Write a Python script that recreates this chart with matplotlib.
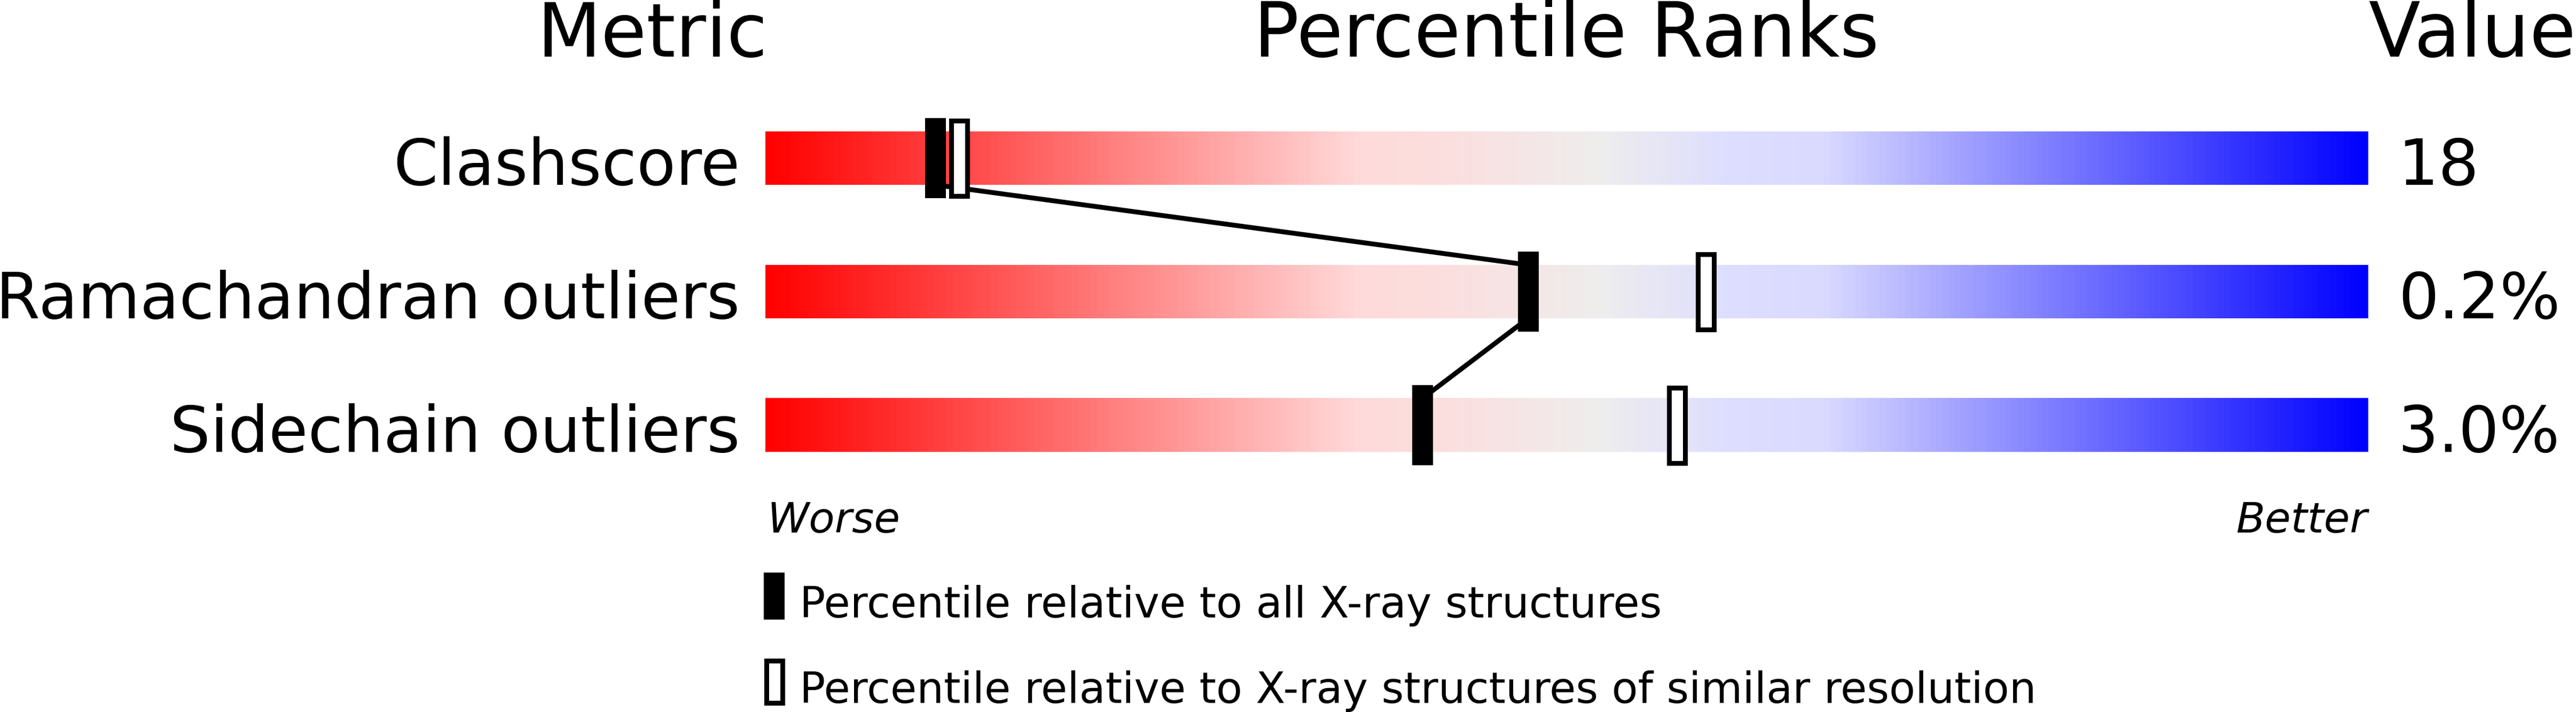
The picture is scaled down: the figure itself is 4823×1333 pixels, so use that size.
import numpy as np
import matplotlib
matplotlib.use("Agg")
import matplotlib.pyplot as plt
from matplotlib.colors import LinearSegmentedColormap
from matplotlib.patches import Rectangle

# --- data ---
metrics = ["Clashscore", "Ramachandran outliers", "Sidechain outliers"]
values = ["18", "0.2%", "3.0%"]
pct_all = [10.6, 47.6, 41.0]       # percentile vs all X-ray structures
pct_similar = [12.1, 58.7, 56.9]   # percentile vs similar resolution
legend_labels = ["Percentile relative to all X-ray structures",
                 "Percentile relative to X-ray structures of similar resolution"]

# red -> pale pink -> grey -> pale blue -> blue
slider_cmap = LinearSegmentedColormap.from_list("slider", [
    (0.00, (1.0, 0.0, 0.0)),
    (0.37, (1.0, 0.855, 0.855)),
    (0.42, (0.99, 0.87, 0.87)),
    (0.52, (0.935, 0.93, 0.93)),
    (0.60, (0.87, 0.87, 1.0)),
    (0.66, (0.855, 0.855, 1.0)),
    (1.00, (0.0, 0.0, 1.0)),
])

W, H, DPI = 4823, 1333, 100
fig = plt.figure(figsize=(W / DPI, H / DPI), dpi=DPI)
ax = fig.add_axes([0, 0, 1, 1])
# x: percentile (0..100 spans the bar), y: row index (downwards)
ax.set_xlim(-1433 / 30, (W - 1433) / 30)
ax.set_ylim((H - 296) / 250, -296 / 250)
ax.axis("off")

bar_h = 0.4
mark_h = 0.6
mark_w = 1.3
grad = np.linspace(0, 1, 512).reshape(1, -1)

for i in range(len(metrics)):
    ax.imshow(grad, cmap=slider_cmap, aspect="auto",
              extent=(0, 100, i + bar_h / 2, i - bar_h / 2), zorder=1)

# connector between the "all structures" markers
for i in range(len(metrics) - 1):
    ax.plot([pct_all[i], pct_all[i + 1]], [i + bar_h / 2, i + 1 - bar_h / 2],
            color="black", lw=6.5, solid_capstyle="butt", zorder=2)

lw_out = 6.5
pad_x = 9 / 30
pad_y = 9 / 250
for i in range(len(metrics)):
    ax.add_patch(Rectangle((pct_all[i] - mark_w / 2, i - mark_h / 2), mark_w, mark_h,
                           facecolor="black", edgecolor="none", zorder=3))
    ax.add_patch(Rectangle((pct_similar[i] - mark_w / 2 + pad_x / 2, i - mark_h / 2 + pad_y / 2),
                           mark_w - pad_x, mark_h - pad_y,
                           facecolor="white", edgecolor="black", lw=lw_out, zorder=3))

    ax.text(-1.6, i + bar_h / 2, metrics[i], ha="right", va="baseline", fontsize=86)
    ax.text(101.9, i + bar_h / 2, values[i], ha="left", va="baseline", fontsize=86)

# headers
ax.text(0.15, -0.76, "Metric", ha="right", va="baseline", fontsize=100)
ax.text(50, -0.76, "Percentile Ranks", ha="center", va="baseline", fontsize=102)
ax.text(100.05, -0.76, "Value", ha="left", va="baseline", fontsize=102)

ax.text(0.1, 2.804, "Worse", ha="left", va="baseline", fontsize=57, style="italic")
ax.text(100, 2.804, "Better", ha="right", va="baseline", fontsize=57, style="italic")

# legend
leg_h = 0.352
ax.add_patch(Rectangle((-0.1, 3.28 - leg_h / 2), 1.3, leg_h,
                       facecolor="black", edgecolor="none"))
ax.add_patch(Rectangle((-0.1 + pad_x / 2, 3.92 - leg_h / 2 + pad_y / 2), 1.3 - pad_x, leg_h - pad_y,
                       facecolor="white", edgecolor="black", lw=lw_out))
ax.text(2.13, 3.44, legend_labels[0], ha="left", va="baseline", fontsize=57.8)
ax.text(2.13, 4.08, legend_labels[1], ha="left", va="baseline", fontsize=57.8)

fig.savefig("out.png", dpi=DPI)
